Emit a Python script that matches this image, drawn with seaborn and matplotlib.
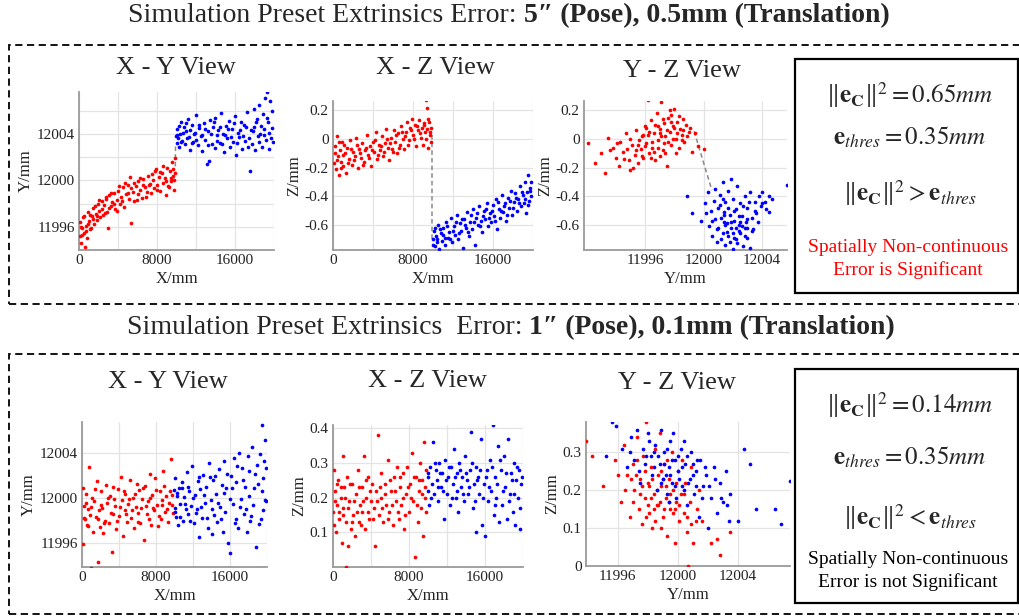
import numpy as np
import matplotlib
matplotlib.use("Agg")
import matplotlib.pyplot as plt
from matplotlib.patches import Rectangle
import seaborn as sns

# ---------------- DATA ----------------
# Top case: 5'' pose, 0.5 mm translation
top_xy_red = [(100, 11995.2), (150, 11996.4), (250, 11994.6), (300, 11995.9), (400, 11996.8), (500, 11995.5), (600, 11994.3), (700, 11996.1), (800, 11995.0), (900, 11997.3), (1000, 11996.5), (1100, 11995.8), (1300, 11996.9), (1400, 11997.6), (1500, 11996.2), (1700, 11997.1), (1800, 11996.6), (1900, 11998.0), (2100, 11997.4), (2200, 11996.8), (2400, 11998.2), (2500, 11997.0), (2600, 11997.9), (2800, 11998.4), (2900, 11997.3), (3000, 11995.9), (3100, 11998.7), (3300, 11997.8), (3400, 11998.1), (3600, 11998.9), (3700, 11997.5), (3900, 11998.3), (4000, 11999.1), (4200, 11998.0), (4300, 11998.6), (4500, 11999.4), (4600, 11997.7), (4800, 11998.8), (5000, 11999.6), (5100, 11998.4), (5200, 12000.3), (5300, 11996.3), (5500, 11999.0), (5600, 11998.2), (5800, 11999.5), (6000, 11998.8), (6100, 11999.9), (6300, 11999.2), (6500, 11998.5), (6600, 12000.1), (6800, 11999.4), (7000, 11999.0), (7100, 12000.4), (7300, 11999.7), (7400, 11998.9), (7600, 12000.0), (7700, 11999.3), (7900, 12001.0), (8000, 11999.6), (8200, 12000.3), (8300, 11999.1), (8500, 12000.6), (8600, 11999.8), (8800, 12000.2), (8900, 11998.7), (9000, 12001.1), (9100, 11999.5), (9300, 12000.8), (9400, 11999.9), (9500, 12001.6), (9600, 12000.4), (9700, 11999.2), (9800, 12001.9), (9850, 12000.6),
              (200, 11996.0), (350, 11995.3), (550, 11996.9), (750, 11995.6), (950, 11996.2), (1150, 11997.0), (1250, 11995.9), (1450, 11996.7), (1650, 11997.8), (1850, 11996.9), (2050, 11998.3), (2350, 11997.5), (2650, 11997.2), (2750, 11998.6), (3050, 11997.6), (3250, 11998.9), (3550, 11998.0), (3850, 11997.4), (4150, 11999.5), (4450, 11998.2), (4750, 11999.8), (5050, 11998.9), (5350, 11999.3), (5650, 11999.8), (5950, 11998.3), (6250, 12000.2), (6550, 11999.6), (6850, 11998.6), (7150, 11999.6), (7450, 12000.5), (7750, 12000.8), (8050, 11999.2), (8350, 12000.7), (8650, 12001.2), (8950, 11999.9), (9250, 11999.4), (9450, 12000.2), (9650, 12001.0), (9750, 12000.0)]
top_xy_blue = [(9950, 12003.8), (10000, 12003.2), (10100, 12004.4), (10200, 12003.6), (10300, 12002.9), (10400, 12004.0), (10500, 12005.0), (10600, 12003.4), (10800, 12004.6), (10900, 12003.1), (11000, 12004.2), (11200, 12005.3), (11300, 12003.7), (11400, 12002.6), (11600, 12004.8), (11700, 12003.3), (11900, 12004.1), (12000, 12005.6), (12200, 12003.0), (12300, 12004.5), (12500, 12003.8), (12600, 12002.5), (12800, 12004.9), (12900, 12003.5), (13100, 12001.4), (13200, 12004.2), (13300, 12001.7), (13400, 12005.2), (13600, 12003.1), (13700, 12004.6), (13900, 12002.8), (14000, 12005.4), (14200, 12003.9), (14300, 12004.3), (14500, 12003.2), (14600, 12005.8), (14800, 12004.0), (14900, 12002.4), (15100, 12004.7), (15200, 12003.6), (15400, 12005.1), (15500, 12002.9), (15700, 12004.4), (15800, 12003.3), (16000, 12005.5), (16100, 12002.2), (16300, 12004.1), (16400, 12003.7), (16600, 12005.0), (16700, 12002.7), (16900, 12004.8), (17000, 12003.4), (17200, 12005.9), (17300, 12002.9), (17500, 12000.8), (17600, 12004.3), (17700, 12003.1), (17900, 12006.1), (18000, 12004.6), (18100, 12002.6), (18300, 12005.3), (18400, 12003.8), (18500, 12006.5), (18600, 12004.0), (18800, 12002.9), (18900, 12005.7), (19000, 12004.4), (19100, 12007.1), (19200, 12003.5), (19300, 12007.6), (19400, 12005.0), (19500, 12002.7), (19600, 12006.8), (19700, 12003.6), (19800, 12004.5),
               (10050, 12003.9), (10250, 12004.7), (10450, 12003.3), (10700, 12004.1), (10950, 12004.9), (11100, 12003.6), (11350, 12004.3), (11550, 12003.2), (11800, 12004.0), (12050, 12003.5), (12350, 12004.8), (12650, 12003.9), (12950, 12004.4), (13250, 12003.0), (13550, 12004.0), (13850, 12005.0), (14150, 12003.4), (14450, 12004.6), (14700, 12003.1), (15000, 12003.9), (15300, 12004.4), (15600, 12003.7), (15900, 12004.9), (16200, 12003.2), (16500, 12004.3), (16800, 12003.8), (17100, 12004.6), (17400, 12003.6), (17800, 12004.2), (18200, 12005.0), (18450, 12003.3), (18700, 12004.7), (18950, 12003.9), (19250, 12005.4), (19450, 12004.1), (19750, 12006.0), (19850, 12003.3)]
top_xz_red = [(100, -0.17), (200, -0.05), (300, -0.21), (400, 0.02), (500, -0.12), (600, -0.25), (700, -0.08), (800, -0.16), (900, -0.02), (1000, -0.19), (1200, -0.10), (1300, -0.24), (1400, -0.06), (1600, -0.14), (1700, -0.01), (1900, -0.18), (2000, -0.09), (2200, -0.12), (2300, 0.01), (2500, -0.20), (2600, -0.07), (2800, -0.13), (2900, -0.03), (3100, -0.16), (3200, -0.08), (3400, 0.03), (3500, -0.11), (3700, -0.05), (3800, -0.19), (4000, -0.02), (4100, -0.09), (4300, 0.05), (4400, -0.14), (4600, -0.04), (4700, -0.08), (4900, 0.02), (5000, -0.12), (5200, -0.03), (5300, 0.07), (5500, -0.06), (5600, -0.15), (5800, 0.01), (5900, -0.07), (6100, 0.06), (6200, -0.02), (6400, -0.10), (6500, 0.04), (6700, -0.04), (6800, 0.09), (7000, 0.00), (7100, -0.07), (7300, 0.05), (7400, 0.12), (7600, -0.01), (7700, 0.08), (7900, 0.14), (8000, 0.03), (8200, 0.10), (8300, -0.05), (8500, 0.06), (8600, 0.13), (8800, 0.01), (8900, 0.08), (9000, -0.04), (9100, 0.11), (9200, 0.05), (9300, 0.27), (9350, 0.22), (9400, 0.07), (9500, -0.06), (9600, 0.12), (9700, 0.03), (9800, 0.08),
              (150, -0.10), (350, -0.15), (550, -0.02), (750, -0.20), (950, -0.11), (1100, -0.04), (1500, -0.17), (1800, -0.07), (2100, -0.15), (2400, -0.04), (2700, -0.10), (3000, -0.18), (3300, -0.06), (3600, -0.13), (3900, -0.08), (4200, -0.01), (4500, -0.11), (4800, -0.05), (5100, -0.09), (5400, 0.00), (5700, -0.03), (6000, -0.09), (6300, 0.03), (6600, -0.06), (6900, 0.05), (7200, 0.02), (7500, -0.04), (7800, 0.06), (8100, 0.00), (8400, 0.09), (8700, 0.04), (9050, 0.10), (9250, 0.00), (9450, 0.14), (9650, 0.05), (9750, -0.02)]
top_xz_blue = [(9950, -0.70), (10050, -0.64), (10150, -0.75), (10250, -0.68), (10400, -0.72), (10500, -0.60), (10600, -0.77), (10800, -0.66), (10900, -0.71), (11000, -0.62), (11200, -0.74), (11300, -0.58), (11500, -0.69), (11600, -0.65), (11800, -0.55), (11900, -0.72), (12100, -0.61), (12200, -0.67), (12400, -0.53), (12500, -0.70), (12700, -0.59), (12800, -0.64), (13000, -0.76), (13100, -0.56), (13300, -0.62), (13400, -0.51), (13600, -0.68), (13700, -0.58), (13900, -0.63), (14000, -0.49), (14200, -0.74), (14300, -0.55), (14500, -0.60), (14600, -0.47), (14800, -0.57), (14900, -0.65), (15100, -0.50), (15200, -0.56), (15400, -0.45), (15500, -0.61), (15700, -0.52), (15800, -0.58), (16000, -0.46), (16100, -0.54), (16300, -0.42), (16400, -0.63), (16600, -0.49), (16700, -0.55), (16900, -0.39), (17000, -0.51), (17200, -0.45), (17300, -0.57), (17500, -0.41), (17600, -0.48), (17800, -0.36), (17900, -0.53), (18100, -0.44), (18200, -0.38), (18400, -0.50), (18500, -0.42), (18700, -0.33), (18800, -0.47), (19000, -0.39), (19100, -0.45), (19200, -0.30), (19300, -0.52), (19400, -0.37), (19500, -0.25), (19600, -0.43), (19700, -0.34), (19800, -0.40),
               (10000, -0.74), (10200, -0.62), (10350, -0.70), (10700, -0.63), (10950, -0.67), (11150, -0.69), (11400, -0.61), (11700, -0.70), (12000, -0.64), (12300, -0.58), (12600, -0.66), (12900, -0.56), (13200, -0.60), (13500, -0.65), (13800, -0.53), (14100, -0.58), (14400, -0.52), (14700, -0.61), (15000, -0.54), (15300, -0.49), (15600, -0.55), (15900, -0.50), (16200, -0.57), (16500, -0.44), (16800, -0.50), (17100, -0.47), (17400, -0.53), (17700, -0.43), (18000, -0.48), (18300, -0.41), (18600, -0.45), (18900, -0.37), (19150, -0.42), (19450, -0.46), (19650, -0.36), (19750, -0.30)]
top_yz_red = [(11992.1, -0.03), (11992.6, -0.17), (11993.0, -0.10), (11993.3, -0.24), (11993.5, 0.01), (11993.8, -0.06), (11994.0, -0.13), (11994.2, -0.19), (11994.3, -0.02), (11994.5, -0.09), (11994.7, 0.04), (11994.9, -0.15), (11995.0, -0.22), (11995.1, -0.04), (11995.3, -0.11), (11995.4, 0.06), (11995.5, -0.17), (11995.7, -0.07), (11995.8, 0.02), (11995.9, -0.13), (11996.0, 0.09), (11996.1, -0.03), (11996.2, 0.27), (11996.3, -0.10), (11996.4, 0.13), (11996.5, -0.06), (11996.6, 0.04), (11996.7, -0.15), (11996.8, 0.18), (11996.9, -0.01), (11997.0, 0.07), (11997.1, 0.26), (11997.2, -0.08), (11997.3, 0.11), (11997.4, 0.02), (11997.5, -0.19), (11997.6, 0.15), (11997.7, 0.05), (11997.8, -0.04), (11997.9, 0.09), (11998.0, 0.21), (11998.1, 0.00), (11998.2, 0.12), (11998.3, -0.06), (11998.4, 0.07), (11998.5, 0.03), (11998.7, -0.02), (11998.8, 0.10), (11999.0, 0.05), (11999.2, -0.09), (11999.4, 0.04), (11999.6, -0.05), (12000.0, -0.07), (11996.5, -0.02), (11997.0, -0.12), (11995.6, -0.01), (11997.8, 0.17), (11996.9, 0.09), (11998.6, 0.14), (11995.2, -0.20), (11997.3, -0.03), (11996.2, 0.03),
              (11993.6, -0.08), (11994.1, -0.03), (11994.6, -0.14), (11995.0, 0.00), (11995.4, -0.08), (11995.8, -0.12), (11996.0, -0.05), (11996.3, 0.05), (11996.6, -0.09), (11996.7, 0.10), (11996.9, -0.06), (11997.1, 0.02), (11997.2, 0.14), (11997.4, -0.10), (11997.5, 0.06), (11997.6, -0.02), (11997.7, 0.20), (11997.9, 0.00), (11998.0, 0.08), (11998.1, -0.10), (11998.2, 0.04), (11998.3, 0.16), (11998.5, -0.01), (11998.6, 0.06), (11998.9, 0.02), (11999.1, 0.08), (11995.9, 0.03), (11996.4, -0.13), (11997.0, 0.04), (11997.8, 0.12), (11996.1, 0.08), (11995.5, -0.04), (11994.8, -0.07)]
top_yz_blue = [(11998.9, -0.40), (11999.2, -0.52), (11999.8, -0.57), (12000.1, -0.45), (12000.3, -0.37), (12000.4, -0.61), (12000.5, -0.50), (12000.6, -0.68), (12000.7, -0.43), (12000.8, -0.56), (12000.9, -0.72), (12001.0, -0.48), (12001.0, -0.62), (12001.1, -0.39), (12001.2, -0.55), (12001.3, -0.66), (12001.3, -0.30), (12001.4, -0.51), (12001.5, -0.74), (12001.5, -0.44), (12001.6, -0.59), (12001.7, -0.36), (12001.7, -0.68), (12001.8, -0.53), (12001.9, -0.62), (12002.0, -0.42), (12002.0, -0.77), (12002.1, -0.57), (12002.2, -0.49), (12002.2, -0.70), (12002.3, -0.33), (12002.4, -0.60), (12002.5, -0.45), (12002.5, -0.66), (12002.6, -0.54), (12002.7, -0.75), (12002.8, -0.40), (12002.9, -0.58), (12003.0, -0.48), (12003.0, -0.69), (12003.2, -0.37), (12003.3, -0.55), (12003.4, -0.63), (12003.5, -0.44), (12003.6, -0.52), (12003.8, -0.40), (12003.9, -0.47), (12004.0, -0.37), (12004.2, -0.44), (12004.5, -0.40), (12004.7, -0.42), (12004.5, -0.51), (12003.2, -0.76), (12001.9, -0.28), (12000.8, -0.35), (12002.4, -0.64), (12001.4, -0.58), (12002.8, -0.62), (12005.7, -0.32),
               (12000.2, -0.52), (12000.6, -0.57), (12000.9, -0.63), (12001.1, -0.46), (12001.2, -0.70), (12001.4, -0.53), (12001.6, -0.65), (12001.7, -0.48), (12001.8, -0.72), (12001.9, -0.58), (12002.0, -0.66), (12002.1, -0.50), (12002.2, -0.62), (12002.3, -0.73), (12002.4, -0.54), (12002.6, -0.61), (12002.7, -0.47), (12002.8, -0.68), (12003.0, -0.56), (12003.1, -0.44), (12003.3, -0.64), (12003.5, -0.50), (12003.7, -0.58), (12004.0, -0.45), (12004.3, -0.49), (12001.5, -0.60), (12002.1, -0.69), (12001.3, -0.42), (12002.5, -0.58), (12003.0, -0.62)]
# gray dashed connectors between the two sides of the discontinuity
top_xy_link = [(9880, 12001.2), (9900, 12003.0)]
top_xz_link = [(9930, 0.03), (9930, -0.70)]
top_yz_link = [(11999.36, 0.054), (12000.57, -0.358)]

# Bottom case: 1'' pose, 0.1 mm translation
bot_xy_red = [(100, 12000.9), (150, 11995.9), (250, 11999.3), (350, 11998.1), (450, 12000.4), (550, 11997.6), (650, 11999.0), (800, 12002.8), (900, 11998.5), (973, 11993.8), (1100, 12000.0), (1200, 11997.0), (1300, 11999.7), (1500, 11998.3), (1600, 12001.5), (1730, 11994.3), (1800, 11998.9), (1900, 11997.4), (2100, 12000.6), (2200, 11999.1), (2300, 11996.9), (2500, 11998.0), (2600, 12001.2), (2700, 11999.6), (2900, 11997.8), (3000, 12000.2), (3240, 11995.2), (3300, 11998.6), (3400, 12001.0), (3600, 11999.3), (3700, 11997.2), (3900, 12000.8), (4000, 11998.4), (4200, 12001.9), (4300, 11999.8), (4400, 11996.6), (4600, 11998.9), (4700, 12000.4), (4900, 11997.9), (5000, 11999.5), (5200, 12001.6), (5300, 11998.2), (5500, 12000.0), (5600, 11997.3), (5800, 11999.2), (5900, 12001.3), (6100, 11998.7), (6200, 12000.7), (6300, 11997.8), (6500, 11999.9), (6700, 11996.3), (6800, 12001.1), (7000, 11998.6), (7100, 11999.7), (7300, 12002.2), (7500, 11997.6), (7600, 12000.3), (7800, 11998.9), (7900, 12001.8), (8100, 11999.4), (8200, 11997.5), (8400, 12000.6), (8500, 11998.1), (8700, 11999.8), (8800, 12002.4), (9000, 11998.8), (9100, 12000.2), (9300, 11997.9), (9400, 11999.6), (9620, 12003.5), (9700, 12000.3), (9800, 11998.7),
              (200, 11998.2), (400, 11999.6), (700, 11997.5), (1000, 11999.2), (1400, 12000.8), (1700, 11998.1), (2000, 11999.4), (2400, 11997.8), (2800, 12000.0), (3100, 11998.7), (3500, 11999.9), (3800, 11998.0), (4100, 11999.2), (4500, 12000.6), (4800, 11998.6), (5100, 11999.9), (5400, 11998.9), (5700, 12000.4), (6000, 11997.9), (6400, 11999.1), (6600, 12000.9), (6900, 11999.3), (7200, 11998.1), (7400, 12000.0), (7700, 11999.1), (8000, 12000.7), (8300, 11998.4), (8600, 11999.4), (8900, 12001.1), (9200, 11999.0), (9500, 12000.6), (9750, 11999.4)]
bot_xy_blue = [(9950, 12000.7), (10050, 11999.1), (10100, 12001.8), (10200, 11998.3), (10300, 12000.2), (10400, 11997.6), (10500, 12000.9), (10600, 11999.5), (10800, 12001.4), (10900, 11998.0), (11000, 12000.1), (11200, 11999.0), (11300, 12002.3), (11500, 11998.6), (11600, 12000.6), (11800, 11999.3), (11900, 12002.9), (12100, 11997.8), (12200, 12000.3), (12400, 11999.0), (12500, 12001.5), (12700, 11996.5), (12800, 12000.8), (13000, 11998.2), (13100, 12002.1), (13300, 11999.6), (13400, 12001.0), (13600, 11997.3), (13700, 12003.1), (13900, 11999.8), (14000, 11996.8), (14200, 12001.6), (14300, 11998.5), (14500, 12000.4), (14600, 11997.9), (14800, 12002.6), (14900, 11999.2), (15100, 12001.2), (15200, 11997.0), (15400, 12003.3), (15500, 11998.8), (15600, 12000.9), (15800, 11996.0), (16000, 11995.1), (16100, 12002.0), (16300, 11999.5), (16400, 12003.6), (16600, 11998.1), (16700, 12001.4), (16900, 11997.3), (17000, 12004.0), (17200, 11999.9), (17300, 12002.7), (17500, 11998.6), (17600, 12001.0), (17800, 11997.0), (17900, 12003.8), (18100, 12000.2), (18200, 11998.0), (18400, 12004.6), (18500, 11999.4), (18700, 12002.2), (18800, 11995.6), (19000, 12001.3), (19100, 11997.7), (19200, 12003.9), (19460, 12006.5), (19500, 12000.6), (19600, 11998.9), (19700, 12003.3), (19800, 12005.2), (19850, 11999.7),
               (10000, 11998.8), (10250, 12000.5), (10550, 11998.3), (10850, 12000.9), (11150, 11999.5), (11450, 12001.0), (11700, 11998.0), (12000, 12000.0), (12300, 11998.7), (12600, 12001.9), (12900, 11999.2), (13200, 12000.3), (13500, 11998.2), (13800, 12001.9), (14100, 11999.0), (14400, 12002.0), (14700, 11999.6), (15000, 11998.1), (15300, 12000.5), (15700, 12002.2), (16000, 11999.9), (16200, 12000.9), (16500, 11997.8), (16800, 12002.9), (17100, 11999.2), (17400, 12001.6), (17700, 11999.0), (18000, 12002.4), (18300, 11998.4), (18600, 12000.9), (18900, 12003.0), (19300, 11998.1), (19550, 12001.8), (19750, 11999.8), (19900, 12002.7)]
bot_xz_red = [(50, 0.16), (100, 0.28), (150, 0.12), (250, 0.22), (350, 0.10), (450, 0.18), (550, 0.25), (650, 0.14), (800, 0.20), (900, 0.07), (1000, 0.32), (1100, 0.17), (1200, 0.23), (1333, 0.00), (1400, 0.13), (1500, 0.26), (1600, 0.06), (1700, 0.19), (1900, 0.11), (2000, 0.24), (2100, 0.15), (2300, 0.09), (2400, 0.21), (2600, 0.28), (2700, 0.13), (2800, 0.18), (3000, 0.23), (3100, 0.16), (3300, 0.32), (3400, 0.11), (3500, 0.20), (3700, 0.26), (3800, 0.14), (4000, 0.19), (4100, 0.24), (4300, 0.17), (4420, 0.06), (4500, 0.22), (4700, 0.38), (4800, 0.15), (5000, 0.27), (5100, 0.20), (5300, 0.13), (5500, 0.24), (5600, 0.18), (5800, 0.31), (5900, 0.16), (6100, 0.22), (6300, 0.12), (6400, 0.26), (6600, 0.19), (6700, 0.29), (6900, 0.14), (7000, 0.23), (7200, 0.18), (7400, 0.27), (7500, 0.11), (7700, 0.21), (7800, 0.29), (8000, 0.16), (8100, 0.24), (8300, 0.33), (8400, 0.19), (8600, 0.03), (8700, 0.26), (8900, 0.13), (9000, 0.22), (9200, 0.30), (9300, 0.17), (9400, 0.25), (9500, 0.09), (9600, 0.36), (9700, 0.20), (9800, 0.28),
              (200, 0.19), (400, 0.24), (600, 0.16), (850, 0.23), (1050, 0.15), (1300, 0.20), (1550, 0.17), (1800, 0.24), (2050, 0.13), (2250, 0.19), (2500, 0.16), (2750, 0.23), (2900, 0.12), (3200, 0.19), (3450, 0.25), (3650, 0.16), (3900, 0.22), (4200, 0.14), (4600, 0.19), (4900, 0.23), (5200, 0.17), (5450, 0.21), (5750, 0.14), (6000, 0.25), (6250, 0.18), (6500, 0.22), (6800, 0.16), (7100, 0.26), (7350, 0.20), (7600, 0.15), (7900, 0.23), (8200, 0.20), (8500, 0.26), (8800, 0.18), (9100, 0.25), (9350, 0.21), (9650, 0.23), (9750, 0.16)]
bot_xz_blue = [(9950, 0.22), (10050, 0.26), (10100, 0.18), (10200, 0.29), (10400, 0.24), (10500, 0.36), (10600, 0.21), (10800, 0.28), (10900, 0.25), (11100, 0.19), (11200, 0.30), (11400, 0.23), (11500, 0.27), (11700, 0.14), (11800, 0.31), (12000, 0.21), (12100, 0.26), (12300, 0.18), (12400, 0.29), (12600, 0.24), (12700, 0.34), (12900, 0.20), (13000, 0.27), (13200, 0.16), (13300, 0.30), (13500, 0.23), (13600, 0.26), (13800, 0.19), (13900, 0.32), (14100, 0.25), (14200, 0.21), (14400, 0.28), (14500, 0.39), (14700, 0.17), (14800, 0.24), (15000, 0.29), (15100, 0.10), (15300, 0.26), (15400, 0.21), (15600, 0.37), (15700, 0.12), (15900, 0.24), (16000, 0.09), (16200, 0.28), (16300, 0.19), (16500, 0.31), (16600, 0.22), (16800, 0.41), (16900, 0.15), (17100, 0.26), (17200, 0.20), (17400, 0.35), (17500, 0.13), (17700, 0.28), (17800, 0.18), (18000, 0.32), (18100, 0.23), (18300, 0.14), (18400, 0.37), (18600, 0.21), (18700, 0.27), (18900, 0.16), (19000, 0.30), (19200, 0.12), (19300, 0.25), (19500, 0.20), (19600, 0.28), (19700, 0.11), (19800, 0.24),
               (10000, 0.27), (10300, 0.20), (10700, 0.30), (11000, 0.23), (11300, 0.27), (11600, 0.22), (11900, 0.25), (12200, 0.29), (12500, 0.20), (12800, 0.26), (13100, 0.22), (13400, 0.28), (13700, 0.21), (14000, 0.27), (14300, 0.23), (14600, 0.30), (14900, 0.19), (15200, 0.25), (15500, 0.28), (15800, 0.20), (16100, 0.26), (16400, 0.23), (16700, 0.29), (17000, 0.18), (17300, 0.24), (17600, 0.31), (17900, 0.22), (18200, 0.27), (18500, 0.19), (18800, 0.25), (19100, 0.21), (19400, 0.29), (19650, 0.17), (19850, 0.26)]
bot_yz_red = [(11993.9, 0.33), (11994.3, 0.29), (11995.0, 0.21), (11995.8, 0.28), (11996.2, 0.17), (11996.4, 0.32), (11996.6, 0.24), (11996.8, 0.13), (11997.0, 0.27), (11997.1, 0.20), (11997.3, 0.34), (11997.4, 0.15), (11997.5, 0.23), (11997.6, 0.11), (11997.7, 0.29), (11997.8, 0.18), (11997.9, 0.38), (11998.0, 0.22), (11998.1, 0.14), (11998.2, 0.26), (11998.3, 0.10), (11998.4, 0.19), (11998.5, 0.31), (11998.6, 0.16), (11998.7, 0.24), (11998.8, 0.35), (11998.9, 0.21), (11999.0, 0.13), (11999.1, 0.27), (11999.2, 0.18), (11999.3, 0.08), (11999.4, 0.23), (11999.5, 0.15), (11999.6, 0.30), (11999.7, 0.20), (11999.8, 0.06), (11999.9, 0.17), (12000.0, 0.25), (12000.1, 0.12), (12000.2, 0.19), (12000.4, 0.14), (12000.5, 0.22), (12000.6, 0.09), (12000.7, 0.00), (12000.8, 0.17), (12000.9, 0.26), (12001.0, 0.06), (12001.2, 0.12), (12001.4, 0.20), (12001.6, 0.12), (12002.2, 0.06), (12002.8, 0.03), (12002.6, 0.07), (12003.5, 0.09), (11998.7, 0.16), (11999.0, 0.23), (11998.2, 0.18), (11999.8, 0.15), (11997.6, 0.21), (11998.9, 0.10), (12000.3, 0.28), (11996.9, 0.23),
              (11996.5, 0.20), (11997.0, 0.17), (11997.2, 0.24), (11997.5, 0.19), (11997.8, 0.25), (11998.0, 0.16), (11998.1, 0.21), (11998.3, 0.23), (11998.4, 0.15), (11998.6, 0.20), (11998.8, 0.17), (11998.9, 0.25), (11999.1, 0.15), (11999.2, 0.21), (11999.4, 0.17), (11999.5, 0.19), (11999.7, 0.14), (11999.9, 0.22), (12000.1, 0.16), (12000.4, 0.19), (12000.6, 0.13), (12000.9, 0.11), (12001.3, 0.15), (11997.3, 0.28), (11998.5, 0.12), (11999.3, 0.28), (11996.0, 0.24), (11997.9, 0.13)]
bot_yz_blue = [(11995.2, 0.29), (11995.6, 0.38), (11995.9, 0.37), (11996.3, 0.31), (11996.6, 0.26), (11996.9, 0.34), (11997.1, 0.28), (11997.3, 0.36), (11997.5, 0.22), (11997.7, 0.31), (11997.8, 0.27), (11998.0, 0.35), (11998.2, 0.29), (11998.3, 0.24), (11998.5, 0.32), (11998.6, 0.20), (11998.8, 0.27), (11998.9, 0.36), (11999.0, 0.23), (11999.1, 0.30), (11999.3, 0.19), (11999.4, 0.26), (11999.5, 0.33), (11999.6, 0.22), (11999.8, 0.28), (11999.9, 0.18), (12000.0, 0.25), (12000.2, 0.31), (12000.3, 0.21), (12000.5, 0.27), (12000.6, 0.16), (12000.8, 0.23), (12000.9, 0.30), (12001.1, 0.19), (12001.2, 0.25), (12001.4, 0.13), (12001.5, 0.28), (12001.7, 0.21), (12001.9, 0.24), (12002.0, 0.10), (12002.2, 0.18), (12002.4, 0.26), (12002.6, 0.14), (12002.8, 0.22), (12003.0, 0.17), (12003.2, 0.25), (12003.4, 0.12), (12003.5, 0.19), (12004.4, 0.31), (12004.0, 0.12), (12004.8, 0.27), (12005.2, 0.15), (12006.5, 0.15), (12006.9, 0.11), (12007.5, 0.225), (11999.7, 0.35), (12000.4, 0.20), (11998.4, 0.30), (12001.0, 0.27), (11999.2, 0.24),
               (11996.8, 0.30), (11997.4, 0.25), (11997.9, 0.29), (11998.1, 0.33), (11998.4, 0.26), (11998.7, 0.29), (11998.9, 0.22), (11999.1, 0.27), (11999.3, 0.31), (11999.5, 0.24), (11999.6, 0.28), (11999.8, 0.21), (12000.0, 0.29), (12000.1, 0.23), (12000.3, 0.26), (12000.6, 0.29), (12000.7, 0.22), (12001.0, 0.24), (12001.3, 0.28), (12001.6, 0.18), (12001.8, 0.26), (12002.1, 0.21), (12002.5, 0.23), (12002.9, 0.18), (12003.3, 0.16), (12000.4, 0.33), (11999.4, 0.17), (12001.2, 0.21)]

# texts
titles = ["Simulation Preset Extrinsics Error: ", "5\u2033 (Pose), 0.5mm (Translation)",
          "Simulation Preset Extrinsics  Error: ", "1\u2033 (Pose), 0.1mm (Translation)"]
view_titles = ["X - Y View", "X - Z View", "Y - Z View"]
top_box = [r"$\Vert\mathbf{e}_{\mathbf{C}}\Vert^{2} = 0.65\mathit{mm}$",
           r"$\mathbf{e}_{\mathit{thres}} = 0.35\mathit{mm}$",
           r"$\Vert\mathbf{e}_{\mathbf{C}}\Vert^{2} > \mathbf{e}_{\mathit{thres}}$",
           "Spatially Non-continuous", "Error is Significant"]
bot_box = [r"$\Vert\mathbf{e}_{\mathbf{C}}\Vert^{2} = 0.14\mathit{mm}$",
           r"$\mathbf{e}_{\mathit{thres}} = 0.35\mathit{mm}$",
           r"$\Vert\mathbf{e}_{\mathbf{C}}\Vert^{2} < \mathbf{e}_{\mathit{thres}}$",
           "Spatially Non-continuous", "Error is not Significant"]

# ---------------- STYLE ----------------
sns.set_theme(style="white")
plt.rcParams['font.family'] = ['Liberation Serif', 'DejaVu Serif']
plt.rcParams['mathtext.fontset'] = 'stix'

W, H = 1019, 616
fig = plt.figure(figsize=(W / 100, H / 100), dpi=100)
fig.patch.set_facecolor('white')

RED, BLUE = '#ff0000', '#0000ff'


def px_axes(l, t, r, b):
    return fig.add_axes([l / W, 1 - b / H, (r - l) / W, (b - t) / H])


def style(ax, xlim, ylim, xgrid, xlab, ygrid, ylab, xlabel, ylabel):
    ax.set_xlim(*xlim)
    ax.set_ylim(*ylim)
    ax.set_xticks(xgrid)
    ax.set_xticklabels([xlab.get(v, '') for v in xgrid])
    ax.set_yticks(ygrid)
    ax.set_yticklabels([ylab.get(v, '') for v in ygrid])
    ax.grid(True, color='#e4e4e4', lw=0.9)
    ax.set_axisbelow(True)
    for s in ['top', 'right']:
        ax.spines[s].set_visible(False)
    for s in ['left', 'bottom']:
        ax.spines[s].set_color('#9a9a9a')
        ax.spines[s].set_linewidth(1.3)
    ax.tick_params(length=0, pad=3, labelsize=11, labelcolor='#222222')
    ax.set_xlabel(xlabel, fontsize=12, labelpad=3, color='#222222')
    ax.set_ylabel(ylabel, fontsize=12, labelpad=2, color='#222222')
    ax.set_facecolor('white')


def scatter(ax, red, blue, link=None):
    rx, ry = zip(*red)
    bx, by = zip(*blue)
    if link is not None:
        lx, ly = zip(*link)
        ax.plot(lx, ly, ls=(0, (3, 2)), color='#8a8a8a', lw=1.1, zorder=1)
    sns.scatterplot(x=list(rx), y=list(ry), ax=ax, color=RED, s=7, linewidth=0, legend=False, zorder=3)
    sns.scatterplot(x=list(bx), y=list(by), ax=ax, color=BLUE, s=7, linewidth=0, legend=False, zorder=3)


xg = [0, 4000, 8000, 12000, 16000, 20000]
xl = {0: '0', 8000: '8000', 16000: '16000'}
yzx = [11996, 12000, 12004]
yzl = {11996: '11996', 12000: '12000', 12004: '12004'}
zg_top = [-0.6, -0.4, -0.2, 0.0, 0.2]
zl_top = {-0.6: '-0.6', -0.4: '-0.4', -0.2: '-0.2', 0.0: '0', 0.2: '0.2'}

# ---- top row ----
ax = px_axes(79, 92, 274, 250)
scatter(ax, top_xy_red, top_xy_blue, top_xy_link)
style(ax, (0, 20000), (11994, 12007.6), xg, xl, [11994, 11996, 11998, 12000, 12002, 12004, 12006],
      {11996: '11996', 12000: '12000', 12004: '12004'}, 'X/mm', 'Y/mm')

ax = px_axes(333, 101, 533, 250)
scatter(ax, top_xz_red, top_xz_blue, top_xz_link)
style(ax, (0, 20000), (-0.776, 0.266), xg, xl, zg_top, zl_top, 'X/mm', 'Z/mm')

ax = px_axes(584, 101, 787, 250)
scatter(ax, top_yz_red, top_yz_blue, top_yz_link)
style(ax, (11991.84, 12005.7), (-0.776, 0.266), yzx, yzl, zg_top, zl_top, 'Y/mm', 'Z/mm')

# ---- bottom row ----
ax = px_axes(82, 422, 267, 567)
scatter(ax, bot_xy_red, bot_xy_blue)
style(ax, (0, 20000), (11993.85, 12006.8), xg, xl, [11996, 12000, 12004],
      {11996: '11996', 12000: '12000', 12004: '12004'}, 'X/mm', 'Y/mm')

ax = px_axes(333, 425, 523, 567)
scatter(ax, bot_xz_red, bot_xz_blue)
style(ax, (0, 20000), (0, 0.41), xg, xl, [0.1, 0.2, 0.3, 0.4],
      {0.1: '0.1', 0.2: '0.2', 0.3: '0.3', 0.4: '0.4'}, 'X/mm', 'Z/mm')

ax = px_axes(586, 422, 790, 566)
scatter(ax, bot_yz_red, bot_yz_blue)
style(ax, (11993.9, 12007.5), (0, 0.38), yzx, yzl, [0.0, 0.1, 0.2, 0.3],
      {0.0: '0', 0.1: '0.1', 0.2: '0.2', 0.3: '0.3'}, 'Y/mm', 'Z/mm')

# ---- view titles ----
for (cx, cy), t in zip([(176, 68), (435, 68), (682, 71)], view_titles):
    fig.text(cx / W, 1 - cy / H, t, ha='center', va='center', fontsize=19)
for (cx, cy), t in zip([(168, 382), (427, 381), (677, 383)], view_titles):
    fig.text(cx / W, 1 - cy / H, t, ha='center', va='center', fontsize=19)

# ---- frames ----
for (t, b) in [(45, 304), (354, 614)]:
    fig.patches.append(Rectangle((9 / W, 1 - b / H), 1030 / W, (b - t) / H, transform=fig.transFigure,
                                 fill=False, ec='black', lw=1.3, ls=(0, (4, 2.5))))
for (t, b) in [(59, 293), (369, 603)]:
    fig.patches.append(Rectangle((795 / W, 1 - b / H), 223 / W, (b - t) / H, transform=fig.transFigure,
                                 fill=False, ec='black', lw=1.6))

# ---- box texts ----
for lines, ys, col in [(top_box, [95, 137, 193, 248, 270], RED), (bot_box, [405, 457, 517, 560, 582], 'black')]:
    for i, (s, y) in enumerate(zip(lines, ys)):
        if i < 3:
            fig.text(910 / W, 1 - y / H, s, ha='center', va='center', fontsize=18)
        else:
            fig.text(908 / W, 1 - y / H, s, ha='center', va='center', fontsize=14, color=col)

# ---- main titles with bold part ----
renderer = fig.canvas.get_renderer()
for (normal, bold), (cx, cy) in zip([(titles[0], titles[1]), (titles[2], titles[3])], [(509, 16), (511, 328)]):
    t1 = fig.text(0, 1 - cy / H, normal, fontsize=20, va='center', ha='left')
    t2 = fig.text(0, 1 - cy / H, bold, fontsize=20, fontweight='bold', va='center', ha='left')
    w1 = t1.get_window_extent(renderer).width
    w2 = t2.get_window_extent(renderer).width
    x0 = cx - (w1 + w2) / 2
    t1.set_x(x0 / W)
    t2.set_x((x0 + w1) / W)

fig.savefig('out.png', dpi=100, facecolor='white')
